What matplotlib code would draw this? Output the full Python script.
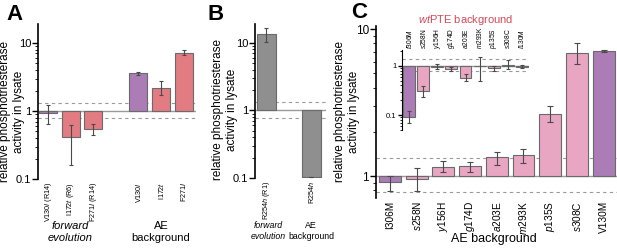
import matplotlib
matplotlib.use('Agg')
from matplotlib import pyplot as plt
from matplotlib.ticker import NullFormatter

plt.rcParams.update({
    'font.family': 'Liberation Sans',
    'font.size': 7.5,
    'mathtext.fontset': 'custom',
    'mathtext.rm': 'Liberation Sans',
    'mathtext.it': 'Liberation Sans:italic',
    'axes.linewidth': 1.2,
})

# colours
purple = '#ab7cb5'
red = '#e27b82'
pink = '#e8a6c3'
grey = '#8f8f8f'
edge = '#6a6a6a'
errc = '#4a4a4a'

# panel A
a_labels = ['V130$\\mathit{I}$ (R14)', 'I172$\\mathit{t}$ (R6)', 'F271$\\mathit{I}$ (R14)',
            'V130$\\mathit{I}$', 'I172$\\mathit{t}$', 'F271$\\mathit{I}$']
a_pos = [0, 1, 2, 4, 5, 6]
a_vals = [0.93, 0.41, 0.54, 3.6, 2.2, 7.1]
a_lo = [0.64, 0.16, 0.44, 3.4, 1.7, 6.6]
a_hi = [1.22, 0.62, 0.64, 3.8, 2.8, 7.8]
a_colors = [purple, red, red, purple, red, red]

# panel B
b_labels = ['R254$\\mathit{h}$ (R1)', 'R254$\\mathit{h}$']
b_pos = [0, 2]
b_vals = [13.5, 0.105]
b_lo = [10.3, 0.105]
b_hi = [16.5, 0.105]

# panel C (AE background)
c_labels = ['I306M', '$\\mathit{s}$258N', '$\\mathit{y}$156H', '$\\mathit{g}$174D', '$\\mathit{a}$203E',
            '$\\mathit{m}$293K', '$\\mathit{p}$135S', '$\\mathit{s}$308C', 'V130M']
c_vals = [0.91, 0.95, 1.15, 1.17, 1.34, 1.39, 2.66, 6.9, 7.1]
c_lo = [0.79, 0.79, 1.06, 1.07, 1.19, 1.22, 2.35, 5.8, 7.0]
c_hi = [1.0, 1.13, 1.26, 1.25, 1.47, 1.52, 3.0, 8.0, 7.2]
c_colors = [purple] + [pink] * 7 + [purple]

# inset (wtPTE background)
i_labels = ['$\\mathit{f}$306M', '$\\mathit{s}$258N', '$\\mathit{y}$156H', '$\\mathit{g}$174D', '$\\mathit{a}$203E',
            '$\\mathit{m}$293K', '$\\mathit{p}$135S', '$\\mathit{s}$308C', '$\\mathit{I}$130M']
i_vals = [0.09, 0.31, 0.97, 0.87, 0.57, 1.0, 0.91, 1.02, 0.96]
i_lo = [0.07, 0.23, 0.88, 0.8, 0.5, 0.5, 0.8, 0.88, 0.9]
i_hi = [0.12, 0.39, 1.1, 0.95, 0.69, 1.5, 1.0, 1.3, 1.02]
i_colors = [purple] + [pink] * 7 + [purple]

ylab_lines = ['relative phosphotriesterase', 'activity in lysate']
W, H = 617, 248


def box(l, t, r, b):
    # pixel box -> figure fraction
    return [l / W, 1 - b / H, (r - l) / W, (b - t) / H]


def ylabel(x, y):
    # two separate lines, ~14 px apart
    for k, line in enumerate(ylab_lines):
        fig.text((x - 7 + 14 * k) / W, 1 - y / H, line, rotation=90,
                 ha='center', va='center', fontsize=8.5)


def bars(ax, pos, vals, lo, hi, colors, width, cap=1.5):
    heights = [v - 1 for v in vals]
    ax.bar(pos, heights, bottom=1, width=width, color=colors, edgecolor=edge, linewidth=0.8, zorder=3)
    yerr = [[v - l for v, l in zip(vals, lo)], [h - v for v, h in zip(vals, hi)]]
    ax.errorbar(pos, vals, yerr=yerr, fmt='none', ecolor=errc, elinewidth=0.8, capsize=cap, capthick=0.8, zorder=4)


def style(ax, ylim, xlim, dash=(1.32, 0.78), xsize=7.5, ysize=8):
    ax.set_yscale('log')
    ax.set_ylim(*ylim)
    ax.set_xlim(*xlim)
    for s in ['top', 'right', 'bottom']:
        ax.spines[s].set_visible(False)
    ax.axhline(1, color='#9a9a9a', lw=1.0, zorder=2)
    for d in dash:
        ax.axhline(d, color='#9a9a9a', lw=0.8, ls=(0, (3, 3)), zorder=1)
    ax.yaxis.set_minor_formatter(NullFormatter())
    ax.tick_params(axis='x', length=0, rotation=90, labelsize=xsize, pad=2)
    ax.tick_params(axis='y', which='major', length=4, width=1, labelsize=ysize, pad=1)
    ax.tick_params(axis='y', which='minor', length=2, width=0.6)


fig = plt.figure(figsize=(6.17, 2.48), dpi=100)

# ---- A
axA = fig.add_axes(box(38, 24, 196, 179))
bars(axA, a_pos, a_vals, a_lo, a_hi, a_colors, 0.8)
style(axA, (0.1, 19), (-0.45, 6.55), xsize=5.2)
axA.set_yticks([0.1, 1, 10])
axA.set_yticklabels(['0.1', '1', '10'])
axA.set_xticks(a_pos)
axA.set_xticklabels(a_labels)
fig.text(70 / W, 1 - 232 / H, 'forward\nevolution', ha='center', va='center', style='italic', fontsize=8, linespacing=1.15)
fig.text(161 / W, 1 - 232 / H, 'AE\nbackground', ha='center', va='center', fontsize=8, linespacing=1.15)
ylabel(12, 112)
fig.text(6 / W, 1 - 14 / H, 'A', fontsize=16, fontweight='bold', va='center')

# ---- B
axB = fig.add_axes(box(255, 24, 326, 178))
bars(axB, b_pos, b_vals, b_lo, b_hi, [grey, grey], 0.85)
style(axB, (0.1, 19), (-0.5, 2.65), xsize=5.2)
axB.set_yticks([0.1, 1, 10])
axB.set_yticklabels(['0.1', '1', '10'])
axB.set_xticks(b_pos)
axB.set_xticklabels(b_labels)
fig.text(268 / W, 1 - 231 / H, 'forward\nevolution', ha='center', va='center', style='italic', fontsize=6.3, linespacing=1.4)
fig.text(311 / W, 1 - 231 / H, 'AE\nbackground', ha='center', va='center', fontsize=6.3, linespacing=1.4)
ylabel(225, 110)
fig.text(207 / W, 1 - 14 / H, 'B', fontsize=16, fontweight='bold', va='center')

# ---- C
axC = fig.add_axes(box(376, 26, 617, 198))
c_pos = list(range(len(c_vals)))
bars(axC, c_pos, c_vals, c_lo, c_hi, c_colors, 0.82, cap=2)
style(axC, (0.71, 10.5), (-0.52, 8.5), dash=(1.32, 0.78), xsize=7.3, ysize=8.5)
axC.set_yticks([1, 10])
axC.set_yticklabels(['1', '10'])
axC.set_xticks(c_pos)
axC.set_xticklabels(c_labels)
fig.text(494 / W, 1 - 239 / H, 'AE background', ha='center', va='center', fontsize=9)
ylabel(347, 112)
fig.text(351 / W, 1 - 12 / H, 'C', fontsize=16, fontweight='bold', va='center')

# inset
axI = fig.add_axes(box(402, 50, 529, 130))
axI.patch.set_alpha(0)
i_pos = list(range(len(i_vals)))
bars(axI, i_pos, i_vals, i_lo, i_hi, i_colors, 0.85, cap=1.2)
style(axI, (0.05, 2.1), (-0.5, 8.5), dash=(1.37, 0.79))
axI.spines['left'].set_linewidth(0.8)
axI.set_yticks([0.1, 1])
axI.set_yticklabels(['0.1', '1'])
axI.tick_params(axis='y', which='major', length=3, labelsize=5.5, pad=1)
axI.tick_params(axis='y', which='minor', length=1.5)
axI.xaxis.tick_top()
axI.set_xticks(i_pos)
axI.set_xticklabels(i_labels)
axI.tick_params(axis='x', labelsize=4.8, pad=1)
fig.text(466 / W, 1 - 20 / H, '$\\mathit{wt}$PTE background', ha='center', va='center', fontsize=8, color='#d24a5a')

plt.savefig('out.png', dpi=100)
